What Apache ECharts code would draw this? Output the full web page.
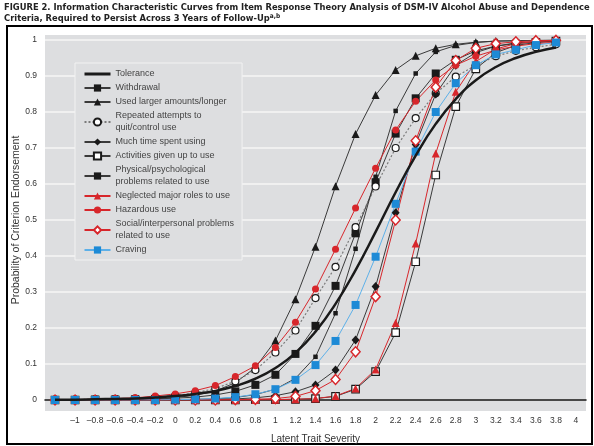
<!DOCTYPE html>
<html>
<head>
<meta charset="utf-8">
<script src="https://cdn.jsdelivr.net/npm/echarts@6/dist/echarts.min.js"></script>
<style>
  html, body { margin: 0; padding: 0; background: #fff; }
  #main { width: 594px; height: 446px; }
</style>
</head>
<body>
<div id="main"></div>
<script>
// latent trait severity categories (last one has no points)
var xValues = [-1.2, -1, -0.8, -0.6, -0.4, -0.2, 0, 0.2, 0.4, 0.6, 0.8, 1, 1.2, 1.4, 1.6, 1.8, 2,
  2.2, 2.4, 2.6, 2.8, 3, 3.2, 3.4, 3.6, 3.8, 4];

// probabilities, x = -1.2 .. 3.8
var tolerance = [0.001, 0.001, 0.002, 0.003, 0.004, 0.007, 0.011, 0.017, 0.025, 0.039, 0.059, 0.089, 0.131,
  0.19, 0.267, 0.361, 0.467, 0.577, 0.679, 0.767, 0.836, 0.888, 0.925, 0.95, 0.967, 0.979];
var withdrawal = [0, 0, 0.001, 0.001, 0.002, 0.003, 0.005, 0.008, 0.014, 0.024, 0.042, 0.07, 0.128,
  0.206, 0.317, 0.463, 0.605, 0.74, 0.838, 0.907, 0.945, 0.97, 0.983, 0.99, 0.994, 0.997];
var usedLarger = [0, 0, 0.001, 0.001, 0.002, 0.004, 0.007, 0.013, 0.025, 0.048, 0.09, 0.165, 0.28,
  0.426, 0.594, 0.739, 0.847, 0.917, 0.956, 0.977, 0.988, 0.994, 0.997, 0.998, 0.999, 1.0];
var repeated = [0.001, 0.001, 0.002, 0.003, 0.004, 0.007, 0.012, 0.02, 0.032, 0.052, 0.083, 0.132, 0.193,
  0.283, 0.37, 0.48, 0.593, 0.7, 0.783, 0.852, 0.898, 0.93, 0.955, 0.97, 0.98, 0.988];
var muchTime = [0, 0, 0, 0, 0, 0, 0.001, 0.001, 0.002, 0.003, 0.006, 0.012, 0.023,
  0.042, 0.083, 0.167, 0.315, 0.52, 0.71, 0.85, 0.93, 0.965, 0.983, 0.992, 0.996, 0.998];
var activities = [0, 0, 0, 0, 0, 0, 0, 0, 0, 0, 0.001, 0.001, 0.002,
  0.004, 0.01, 0.03, 0.079, 0.187, 0.384, 0.625, 0.815, 0.92, 0.965, 0.985, 0.993, 0.997];
var physical = [0, 0, 0, 0, 0, 0, 0.001, 0.002, 0.003, 0.007, 0.015, 0.03, 0.06,
  0.12, 0.241, 0.42, 0.62, 0.803, 0.907, 0.967, 0.985, 0.993, 0.997, 0.998, 0.999, 1.0];
var neglected = [0, 0, 0, 0, 0, 0, 0, 0, 0, 0, 0, 0.001, 0.002,
  0.004, 0.011, 0.032, 0.085, 0.214, 0.435, 0.685, 0.856, 0.94, 0.975, 0.99, 0.996, 0.998];
var hazardous = [0.001, 0.001, 0.002, 0.004, 0.006, 0.011, 0.017, 0.026, 0.04, 0.065, 0.095, 0.146, 0.216,
  0.308, 0.419, 0.533, 0.644, 0.75, 0.83, 0.889, 0.93, 0.955, 0.972, 0.983, 0.99, 0.994];
var social = [0, 0, 0, 0, 0, 0, 0, 0, 0, 0.001, 0.002, 0.004, 0.01,
  0.026, 0.057, 0.134, 0.287, 0.5, 0.72, 0.869, 0.943, 0.977, 0.99, 0.995, 0.998, 0.999];
var craving = [0, 0, 0, 0, 0, 0, 0.001, 0.002, 0.004, 0.008, 0.016, 0.03, 0.056,
  0.097, 0.164, 0.264, 0.398, 0.545, 0.69, 0.8, 0.88, 0.93, 0.96, 0.973, 0.986, 0.993];

var titleLine1 = 'FIGURE 2. Information Characteristic Curves from Item Response Theory Analysis of DSM-IV Alcohol Abuse and Dependence';
var titleLine2 = 'Criteria, Required to Persist Across 3 Years of Follow-Up';

var BLACK = '#1a1a1a', LINE = '#3a3a3a', RED = '#d7262b', BLUE = '#1d8ad6';
var titleFont = 'DejaVu Sans Condensed';
var font = 'Liberation Sans';

// shrink the title font so the long first line fits the page width
var ctx = document.createElement('canvas').getContext('2d');
ctx.font = 'bold 10px "' + titleFont + '"';
var titleSize = Math.min(10.5, 10 * 586 / ctx.measureText(titleLine1).width);

function mk(name, data, opt) {
  var s = {
    name: name,
    type: 'line',
    data: data,
    symbol: opt.symbol,
    symbolSize: opt.size,
    showAllSymbol: true,
    lineStyle: { color: opt.line, width: opt.lw || 1, type: opt.dash || 'solid' },
    itemStyle: { color: opt.fill, borderColor: opt.border || opt.fill, borderWidth: opt.bw || 0 },
    emphasis: { disabled: true },
    z: opt.z || 2
  };
  if (opt.smooth) s.smooth = true;
  return s;
}

var series = [
  mk('Tolerance', tolerance, { symbol: 'none', line: BLACK, lw: 2.5, smooth: true, fill: BLACK, z: 3 }),
  mk('Withdrawal', withdrawal, { symbol: 'rect', size: 8, line: LINE, fill: BLACK }),
  mk('Used larger amounts/longer', usedLarger, { symbol: 'triangle', size: 8, line: LINE, fill: BLACK }),
  mk('Repeated attempts to quit/control use', repeated, { symbol: 'circle', size: 7, line: '#7a7a7a', dash: [2, 2], lw: 1.2, fill: '#fff', border: BLACK, bw: 1.2 }),
  mk('Much time spent using', muchTime, { symbol: 'diamond', size: [8, 9], line: LINE, fill: BLACK }),
  mk('Activities given up to use', activities, { symbol: 'rect', size: 7.5, line: LINE, fill: '#fff', border: BLACK, bw: 1.2 }),
  mk('Physical/psychological problems related to use', physical, { symbol: 'rect', size: 4.5, line: LINE, fill: BLACK }),
  mk('Neglected major roles to use', neglected, { symbol: 'triangle', size: 8, line: RED, fill: RED }),
  mk('Hazardous use', hazardous, { symbol: 'circle', size: 7, line: RED, fill: RED }),
  mk('Social/interpersonal problems related to use', social, { symbol: 'diamond', size: [9, 10], line: RED, fill: '#fff', border: RED, bw: 1.5 }),
  mk('Craving', craving, { symbol: 'rect', size: 8, line: '#5db0e8', fill: BLUE })
];

var legendData = series.map(function (s) {
  if (s.name === 'Tolerance') return { name: s.name, itemStyle: { opacity: 0 }, lineStyle: { width: 3 } };
  return { name: s.name };
});

var chart = echarts.init(document.getElementById('main'));
var option = {
  animation: false,
  backgroundColor: '#fff',
  title: {
    left: 4,
    top: 2,
    padding: 0,
    text: titleLine1 + '\n' + titleLine2 + '{sup|a,b}',
    textStyle: {
      fontFamily: titleFont, fontSize: titleSize, fontWeight: 'bold', color: '#222', lineHeight: 11,
      rich: { sup: { fontSize: 6.5, fontWeight: 'bold', verticalAlign: 'top', lineHeight: 8, fontFamily: titleFont, color: '#222' } }
    }
  },
  graphic: [
    { type: 'rect', z: -10, shape: { x: 7, y: 26, width: 585, height: 418 }, style: { fill: 'none', stroke: '#000', lineWidth: 2 } },
    { type: 'rect', z: -5, shape: { x: 45, y: 35, width: 541, height: 376 }, style: { fill: '#dddee0' } }
  ],
  legend: {
    data: legendData,
    orient: 'vertical',
    left: 75,
    top: 63,
    padding: [5, 8, 4, 8],
    itemGap: 2,
    itemWidth: 26,
    itemHeight: 9,
    backgroundColor: '#dddee0',
    borderColor: '#f2f2f2',
    borderWidth: 1,
    textStyle: { fontFamily: font, fontSize: 9, color: '#444', lineHeight: 12 },
    formatter: function (n) {
      if (n === 'Repeated attempts to quit/control use') return 'Repeated attempts to\nquit/control use';
      if (n === 'Physical/psychological problems related to use') return 'Physical/psychological\nproblems related to use';
      if (n === 'Social/interpersonal problems related to use') return 'Social/interpersonal problems\nrelated to use';
      return n;
    }
  },
  grid: { left: 45, right: 8, top: 40, bottom: 46, outerBoundsMode: 'none', containLabel: false },
  xAxis: {
    type: 'category',
    data: xValues.map(String),
    boundaryGap: true,
    name: 'Latent Trait Severity',
    nameLocation: 'middle',
    nameGap: 34,
    nameMoveOverlap: false,
    nameTextStyle: { fontFamily: font, fontSize: 10, color: '#333' },
    axisLine: { lineStyle: { color: '#111', width: 1.5 } },
    axisTick: { show: false },
    axisLabel: {
      interval: 0, margin: 16, fontFamily: font, fontSize: 8.5, color: '#333',
      formatter: function (v) { return v === '-1.2' ? '' : v.replace('-', '\u2013'); }
    },
    splitLine: { show: false }
  },
  yAxis: {
    type: 'value',
    min: 0,
    max: 1,
    interval: 0.1,
    name: 'Probability of Criterion Endorsement',
    nameLocation: 'middle',
    nameGap: 23,
    nameMoveOverlap: false,
    nameTextStyle: { fontFamily: font, fontSize: 10.5, color: '#333' },
    axisLine: { show: false },
    axisTick: { show: false },
    axisLabel: { margin: 8, fontFamily: font, fontSize: 8.5, color: '#333',
      formatter: function (v) { return String(Math.round(v * 10) / 10); } },
    splitLine: { lineStyle: { color: '#f6f6f6', width: 1.5 } }
  },
  series: series
};
chart.setOption(option);
</script>
</body>
</html>
